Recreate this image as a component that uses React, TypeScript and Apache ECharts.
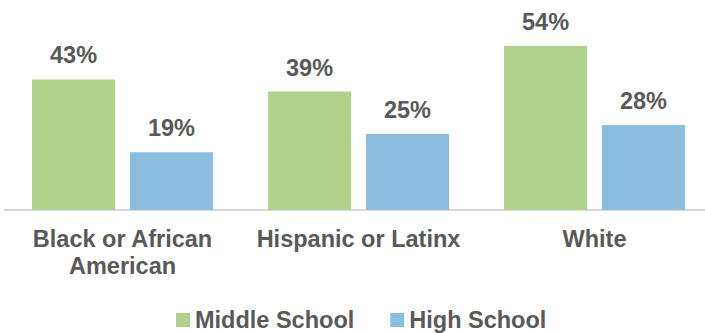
import React, { useEffect, useRef } from "react";
import * as echarts from "echarts";

const categories = ["Black or African\nAmerican", "Hispanic or Latinx", "White"];
const middleSchool = [43, 39, 54];
const highSchool = [19, 25, 28];
const seriesNames = ["Middle School", "High School"];

const TEXT = "#595959";
const FONT = "'Liberation Sans', Arial, Helvetica, sans-serif";

export default function App() {
  const ref = useRef<HTMLDivElement>(null);
  useEffect(() => {
    if (!ref.current) return;
    const chart = echarts.init(ref.current, null, { renderer: "svg" });
    const label = {
      show: true,
      position: "top",
      distance: 12,
      formatter: "{c}%",
      color: TEXT,
      fontSize: 23.5,
      fontWeight: "bold",
      fontFamily: FONT,
    };
    chart.setOption({
      animation: false,
      grid: { left: 4.5, width: 708, top: 27.8, height: 182.2, containLabel: false },
      legend: {
        left: 176,
        top: 308,
        padding: 0,
        itemWidth: 14,
        itemHeight: 14,
        itemGap: 36,
        icon: "rect",
        textStyle: { color: TEXT, fontSize: 23.5, fontWeight: "bold", fontFamily: FONT },
        data: seriesNames,
      },
      xAxis: {
        type: "category",
        data: categories,
        axisLine: { show: true, lineStyle: { color: "#d9d9d9", width: 2 } },
        axisTick: { show: false },
        axisLabel: {
          color: TEXT,
          fontSize: 23.5,
          fontWeight: "bold",
          fontFamily: FONT,
          lineHeight: 27,
          margin: 15,
          interval: 0,
        },
      },
      yAxis: {
        type: "value",
        min: 0,
        max: 60,
        show: false,
        splitLine: { show: false },
      },
      series: [
        {
          name: seriesNames[0],
          type: "bar",
          data: middleSchool,
          barWidth: 83,
          barGap: "18%",
          itemStyle: { color: "#b0d28c" },
          label,
        },
        {
          name: seriesNames[1],
          type: "bar",
          data: highSchool,
          barWidth: 83,
          barGap: "18%",
          itemStyle: { color: "#8bbede" },
          label,
        },
      ],
    });
    return () => chart.dispose();
  }, []);
  return (
    <div
      style={{ position: "fixed", left: 0, top: 0, width: 705, height: 333, overflow: "hidden", background: "#fff" }}
    >
      <div ref={ref} style={{ width: 716, height: 333 }} />
    </div>
  );
}
